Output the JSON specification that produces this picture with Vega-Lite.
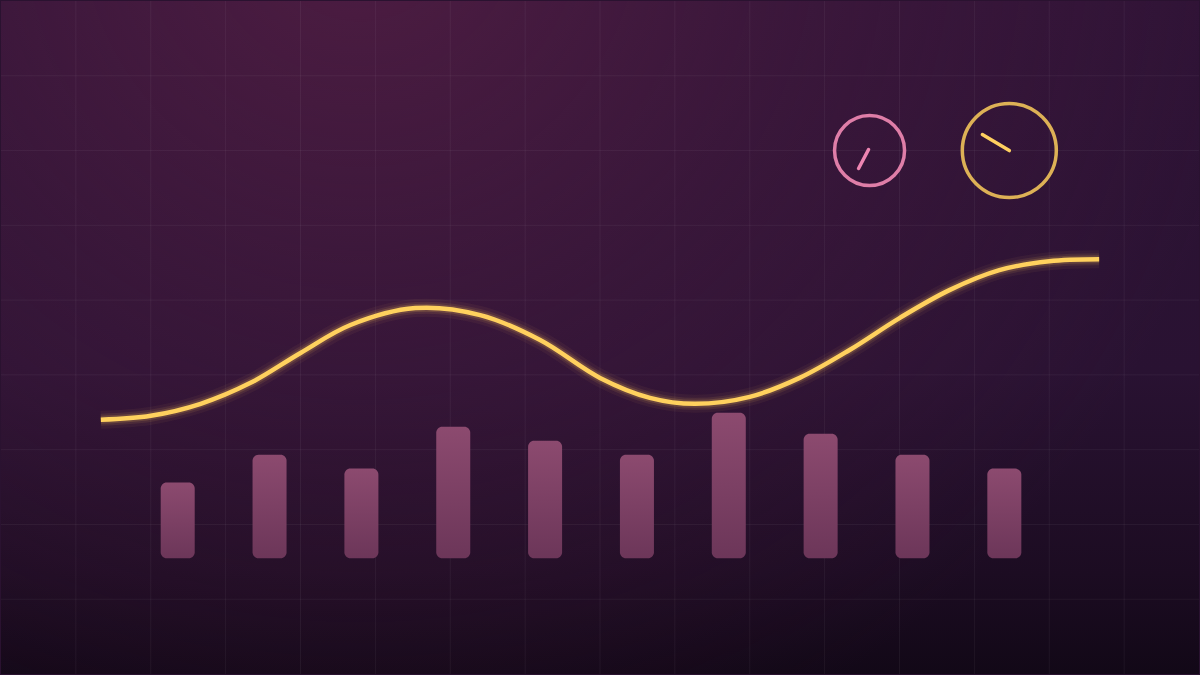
{
  "$schema": "https://vega.github.io/schema/vega-lite/v6.json",
  "width": 1200,
  "height": 675,
  "autosize": {"type": "fit", "contains": "padding"},
  "padding": 0,
  "background": "#2a1230",
  "config": {"view": {"stroke": null}, "scale": {"continuousPadding": 0}},
  "datasets": {
    "vgrid": [{"x": 75}, {"x": 150}, {"x": 225}, {"x": 300}, {"x": 375}, {"x": 450}, {"x": 525}, {"x": 600}, {"x": 675}, {"x": 750}, {"x": 825}, {"x": 900}, {"x": 975}, {"x": 1050}, {"x": 1125}],
    "hgrid": [{"y": 75}, {"y": 150}, {"y": 225}, {"y": 300}, {"y": 375}, {"y": 450}, {"y": 525}, {"y": 600}],
    "curve": [
      {"x": 100, "y": 255}, {"x": 150, "y": 259}, {"x": 200, "y": 271}, {"x": 250, "y": 292},
      {"x": 300, "y": 322}, {"x": 350, "y": 350}, {"x": 415, "y": 367}, {"x": 480, "y": 360},
      {"x": 540, "y": 335}, {"x": 600, "y": 297}, {"x": 650, "y": 277}, {"x": 695, "y": 271},
      {"x": 750, "y": 278}, {"x": 800, "y": 297}, {"x": 850, "y": 325}, {"x": 900, "y": 357},
      {"x": 950, "y": 385}, {"x": 1000, "y": 405}, {"x": 1050, "y": 414}, {"x": 1100, "y": 416}
    ],
    "bars": [
      {"x": 177, "top": 192}, {"x": 269, "top": 220}, {"x": 361, "top": 206}, {"x": 453, "top": 248},
      {"x": 545, "top": 234}, {"x": 637, "top": 220}, {"x": 729, "top": 262}, {"x": 821, "top": 241},
      {"x": 913, "top": 220}, {"x": 1005, "top": 206}
    ],
    "gauges": [
      {"x": 870, "y": 525, "d": 70, "g": "pink"},
      {"x": 1010, "y": 525, "d": 94, "g": "gold"}
    ],
    "needles": [
      {"x": 869, "y": 526, "x2": 859, "y2": 507, "g": "pink"},
      {"x": 1010, "y": 525, "x2": 983, "y2": 541, "g": "gold"}
    ]
  },
  "encoding": {
    "x": {"type": "quantitative", "scale": {"domain": [0, 1200], "nice": false, "zero": false, "padding": 0}, "axis": null},
    "y": {"type": "quantitative", "scale": {"domain": [0, 675], "nice": false, "zero": false, "padding": 0}, "axis": null}
  },
  "layer": [
    {
      "data": {"values": [{"a": 0}]},
      "mark": {
        "type": "rect",
        "color": {
          "gradient": "linear", "x1": 0, "y1": 0, "x2": 0, "y2": 1,
          "stops": [
            {"offset": 0, "color": "#2f1336"},
            {"offset": 0.55, "color": "#291232"},
            {"offset": 0.85, "color": "#1c0c22"},
            {"offset": 1, "color": "#120817"}
          ]
        }
      },
      "encoding": {
        "x": {"datum": 0, "type": "quantitative"},
        "x2": {"datum": 1200},
        "y": {"datum": 0, "type": "quantitative"},
        "y2": {"datum": 675}
      }
    },
    {
      "data": {"values": [{"a": 0}]},
      "mark": {
        "type": "rect",
        "color": {
          "gradient": "radial", "x1": 0.3, "y1": 0.15, "r1": 0, "x2": 0.3, "y2": 0.15, "r2": 0.75,
          "stops": [
            {"offset": 0, "color": "rgba(88,32,70,0.75)"},
            {"offset": 0.5, "color": "rgba(80,30,68,0.35)"},
            {"offset": 1, "color": "rgba(80,30,68,0)"}
          ]
        }
      },
      "encoding": {
        "x": {"datum": 0, "type": "quantitative"},
        "x2": {"datum": 1200},
        "y": {"datum": 0, "type": "quantitative"},
        "y2": {"datum": 675}
      }
    },
    {
      "data": {"name": "vgrid"},
      "mark": {"type": "rule", "color": "#ffffff", "opacity": 0.05, "strokeWidth": 1},
      "encoding": {"x": {"field": "x", "type": "quantitative"}}
    },
    {
      "data": {"name": "hgrid"},
      "mark": {"type": "rule", "color": "#ffffff", "opacity": 0.05, "strokeWidth": 1},
      "encoding": {"y": {"field": "y", "type": "quantitative"}}
    },
    {
      "data": {"name": "bars"},
      "mark": {
        "type": "bar", "width": 34, "cornerRadius": 6,
        "color": {
          "gradient": "linear", "x1": 0, "y1": 0, "x2": 0, "y2": 1,
          "stops": [{"offset": 0, "color": "#8c4a6f"}, {"offset": 1, "color": "#6c3659"}]
        }
      },
      "encoding": {
        "x": {"field": "x", "type": "quantitative"},
        "y": {"field": "top", "type": "quantitative"},
        "y2": {"datum": 116}
      }
    },
    {
      "data": {"name": "curve"},
      "mark": {"type": "line", "interpolate": "catmull-rom", "color": "#ffc85a", "strokeWidth": 18, "opacity": 0.05, "strokeCap": "butt"},
      "encoding": {"x": {"field": "x", "type": "quantitative"}, "y": {"field": "y", "type": "quantitative"}}
    },
    {
      "data": {"name": "curve"},
      "mark": {"type": "line", "interpolate": "catmull-rom", "color": "#ffc85a", "strokeWidth": 12, "opacity": 0.09, "strokeCap": "butt"},
      "encoding": {"x": {"field": "x", "type": "quantitative"}, "y": {"field": "y", "type": "quantitative"}}
    },
    {
      "data": {"name": "curve"},
      "mark": {"type": "line", "interpolate": "catmull-rom", "color": "#ffc85a", "strokeWidth": 8, "opacity": 0.16, "strokeCap": "butt"},
      "encoding": {"x": {"field": "x", "type": "quantitative"}, "y": {"field": "y", "type": "quantitative"}}
    },
    {
      "data": {"name": "curve"},
      "mark": {"type": "line", "interpolate": "catmull-rom", "color": "#ffd15e", "strokeWidth": 4.5, "strokeCap": "butt"},
      "encoding": {"x": {"field": "x", "type": "quantitative"}, "y": {"field": "y", "type": "quantitative"}}
    },
    {
      "data": {"name": "gauges"},
      "mark": {"type": "point", "shape": "circle", "filled": false, "strokeWidth": 3.5, "opacity": 1},
      "encoding": {
        "x": {"field": "x", "type": "quantitative"},
        "y": {"field": "y", "type": "quantitative"},
        "size": {"field": "d", "type": "quantitative", "scale": {"type": "pow", "exponent": 2, "domain": [0, 100], "range": [0, 10000]}, "legend": null},
        "color": {"field": "g", "type": "nominal", "scale": {"domain": ["pink", "gold"], "range": ["#df7ea8", "#ddb156"]}, "legend": null}
      }
    },
    {
      "data": {"name": "needles"},
      "mark": {"type": "rule", "strokeWidth": 3.5, "strokeCap": "round"},
      "encoding": {
        "x": {"field": "x", "type": "quantitative"},
        "y": {"field": "y", "type": "quantitative"},
        "x2": {"field": "x2"},
        "y2": {"field": "y2"},
        "color": {"field": "g", "type": "nominal", "scale": {"domain": ["pink", "gold"], "range": ["#ee85b2", "#ffd060"]}, "legend": null}
      }
    }
  ],
  "resolve": {"scale": {"color": "independent"}}
}
